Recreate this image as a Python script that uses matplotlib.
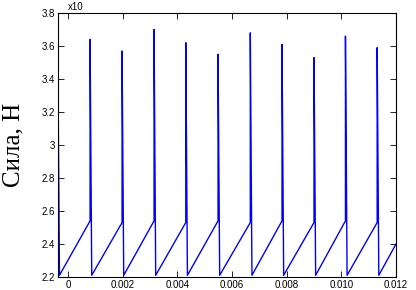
import matplotlib

matplotlib.use("Agg")
import matplotlib.pyplot as plt

# spike times (s), spike peaks, value just before spike, trough right after spike
spike_t = [-0.00037, 0.00081, 0.00198, 0.00315, 0.00431, 0.00549,
           0.00667, 0.00783, 0.00900, 0.01015, 0.01131]
peaks = [3.52, 3.64, 3.57, 3.70, 3.62, 3.55, 3.68, 3.61, 3.53, 3.66, 3.59]
pre_spike = [3.52, 2.54, 2.53, 2.54, 2.53, 2.54, 2.53, 2.54, 2.53, 2.54, 2.53]
trough = [2.21, 2.21, 2.21, 2.21, 2.21, 2.21, 2.21, 2.21, 2.21, 2.21, 2.21]
t_end, v_end = 0.0120, 2.40
drop_dt = 0.00006

xticks = [0, 0.002, 0.004, 0.006, 0.008, 0.010, 0.012]
xtick_labels = ["0", "0.002", "0.004", "0.006", "0.008", "0.010", "0.012"]
yticks = [2.2, 2.4, 2.6, 2.8, 3.0, 3.2, 3.4, 3.6, 3.8]

# build the polyline: ramp up -> spike -> drop to trough
t, v = [], []
for ts, pk, pre, tr in zip(spike_t, peaks, pre_spike, trough):
    t += [ts, ts, ts + drop_dt]
    v += [pre, pk, tr]
t.append(t_end)
v.append(v_end)

plt.rcParams.update({"font.family": "Liberation Sans", "font.size": 7})

fig = plt.figure(figsize=(4.16, 2.90), dpi=100)
ax = fig.add_axes([0.139, 0.045, 0.813, 0.91])
ax.plot(t, v, color="#0000ff", lw=1.0)

ax.set_xlim(-0.00037, 0.012)
ax.set_ylim(2.2, 3.8)
ax.set_xticks(xticks)
ax.set_xticklabels(xtick_labels)
ax.set_yticks(yticks)
ax.set_yticklabels([f"{y:g}" for y in yticks])
ax.tick_params(direction="in", length=4, width=0.6, top=True, right=True,
               labelsize=7, pad=2)
for s in ax.spines.values():
    s.set_linewidth(0.8)

ax.set_ylabel("Сила, Н", family="Liberation Serif", fontsize=18, labelpad=12)
ax.text(0.03, 1.005, "x10", transform=ax.transAxes, fontsize=7,
        ha="left", va="bottom")

fig.savefig("out.png", dpi=100)
